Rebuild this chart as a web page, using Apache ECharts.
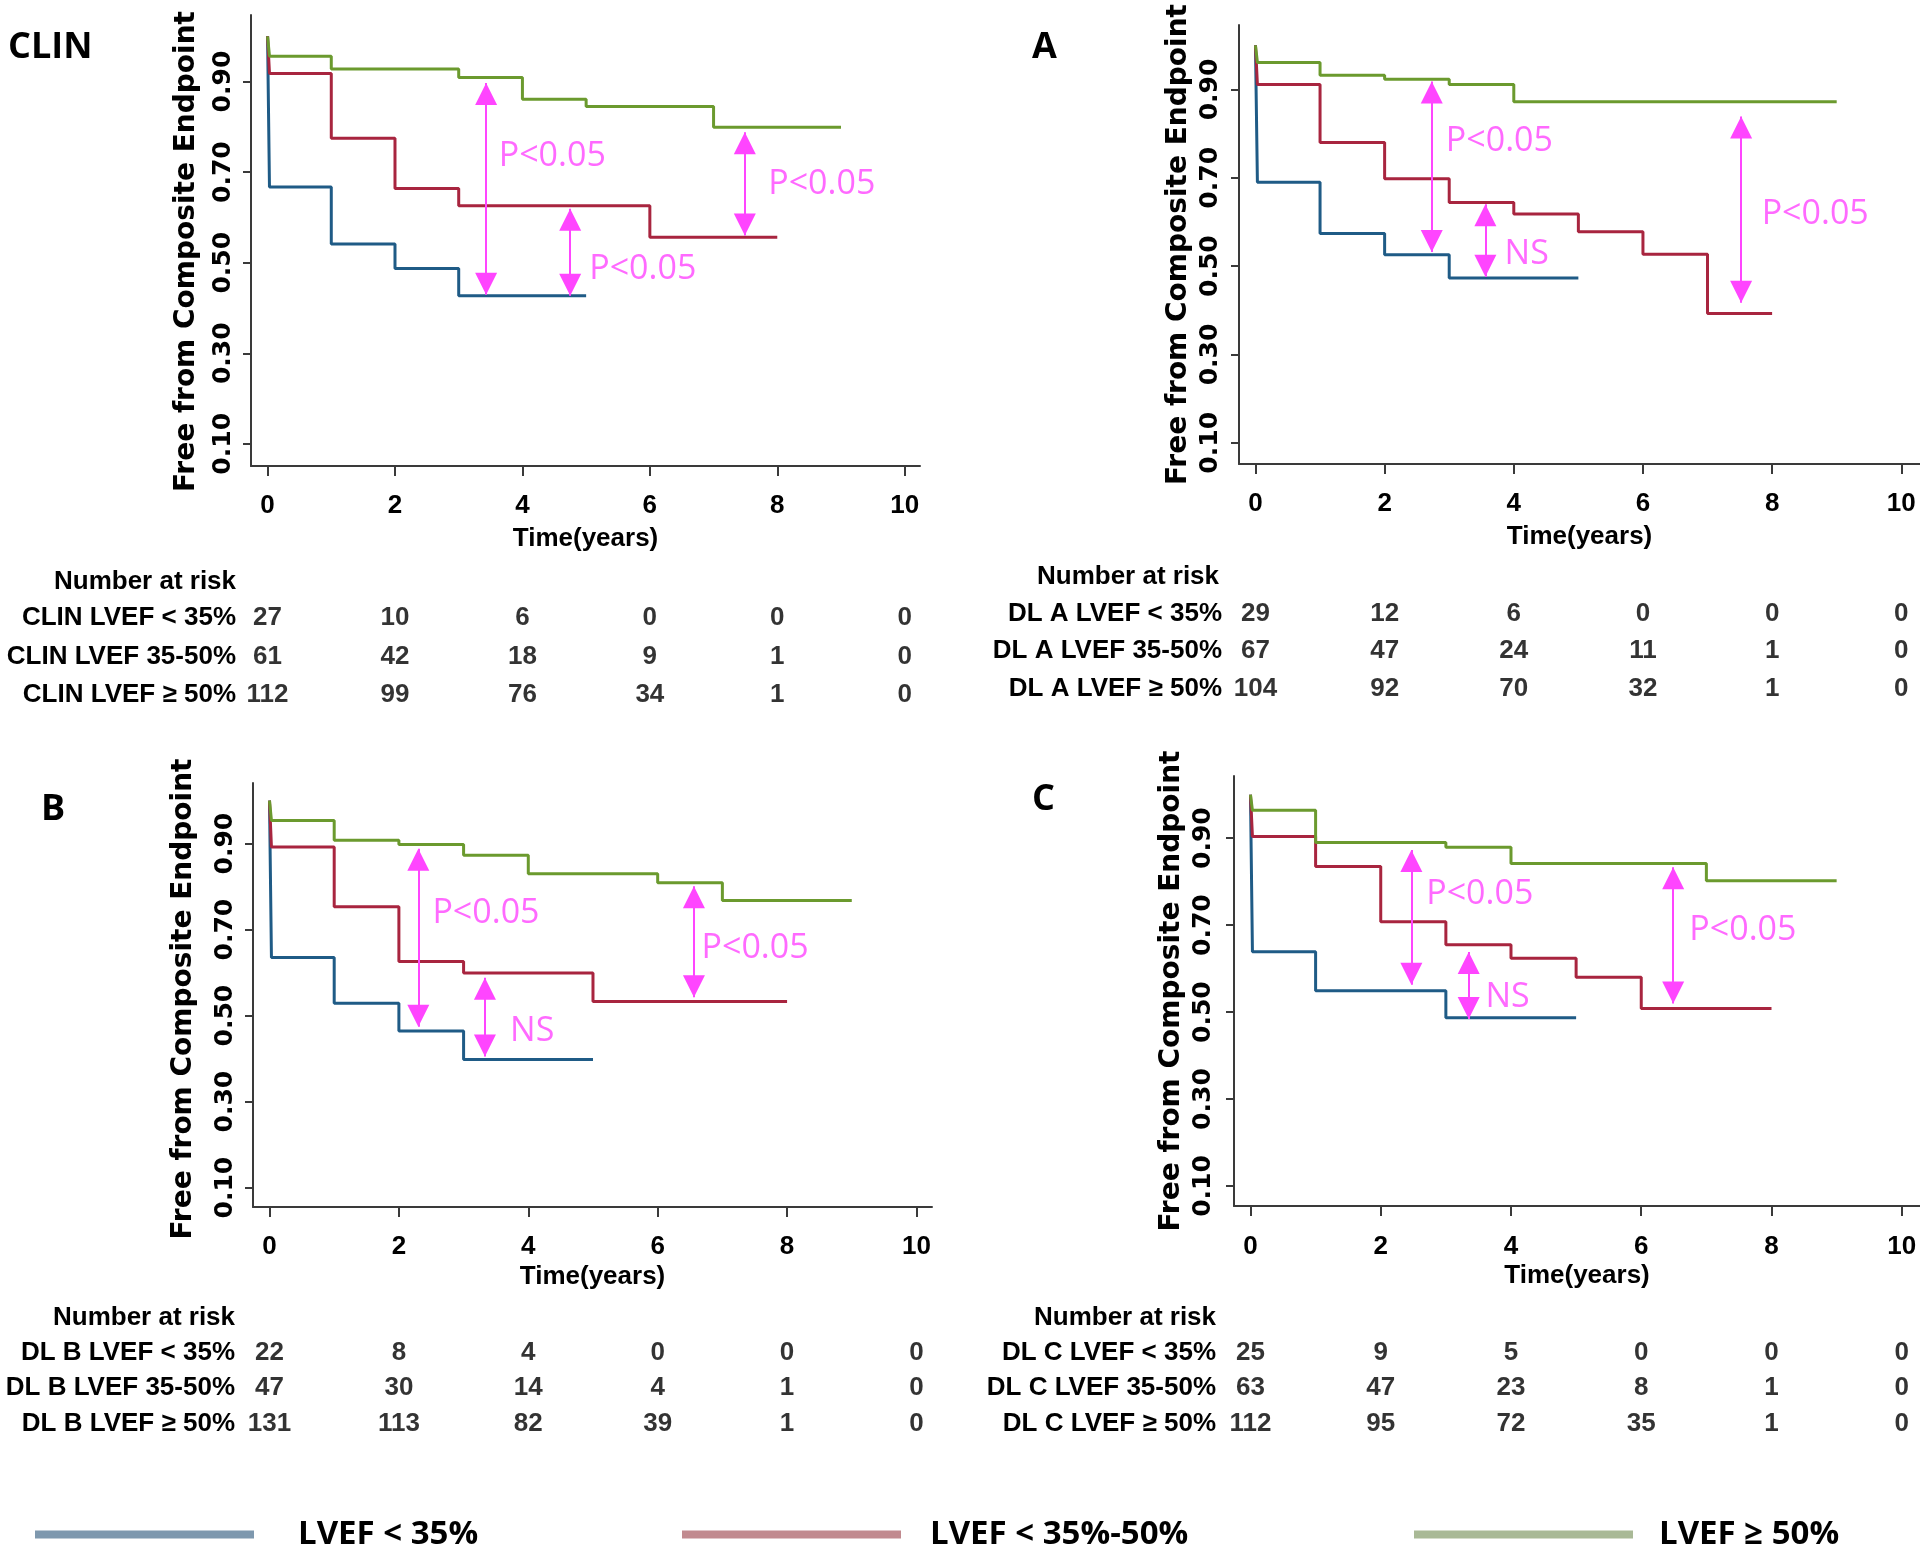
<!DOCTYPE html>
<html>
<head>
<meta charset="utf-8">
<title>Free from Composite Endpoint by LVEF group</title>
<script src="https://cdn.jsdelivr.net/npm/echarts@6/dist/echarts.min.js"></script>
<style>
  html, body { margin: 0; padding: 0; background: #fff; }
  #chart { width: 1920px; height: 1549px; }
</style>
</head>
<body>
<div id="chart"></div>
<script>
// Kaplan-Meier steps, [years, survival]
const clinLow = [[0, 1], [0.03, 0.667], [1, 0.541], [2, 0.487], [3, 0.427], [5, 0.427]];
const clinMid = [[0, 1], [0.03, 0.918], [1, 0.775], [2, 0.664], [3, 0.626], [6, 0.556], [8, 0.556]];
const clinHigh = [[0, 1], [0.03, 0.956], [1, 0.928], [3, 0.909], [4, 0.861], [5, 0.845], [7, 0.799], [9, 0.799]];

const aLow = [[0, 1], [0.03, 0.690], [1, 0.574], [2, 0.526], [3, 0.473], [5, 0.473]];
const aMid = [[0, 1], [0.03, 0.911], [1, 0.780], [2, 0.698], [3, 0.644], [4, 0.618], [5, 0.578], [6, 0.527], [7, 0.393], [8, 0.393]];
const aHigh = [[0, 1], [0.03, 0.961], [1, 0.932], [2, 0.923], [3, 0.911], [4, 0.872], [9, 0.872]];

const bLow = [[0, 1], [0.03, 0.635], [1, 0.529], [2, 0.464], [3, 0.398], [5, 0.398]];
const bMid = [[0, 1], [0.03, 0.892], [1, 0.753], [2, 0.626], [3, 0.599], [5, 0.533], [8, 0.533]];
const bHigh = [[0, 1], [0.03, 0.954], [1, 0.908], [2, 0.898], [3, 0.873], [4, 0.830], [6, 0.809], [7, 0.768], [9, 0.768]];

const cLow = [[0, 1], [0.03, 0.639], [1, 0.549], [3, 0.487], [5, 0.487]];
const cMid = [[0, 1], [0.03, 0.904], [1, 0.835], [2, 0.708], [3, 0.655], [4, 0.624], [5, 0.580], [6, 0.508], [8, 0.508]];
const cHigh = [[0, 1], [0.03, 0.964], [1, 0.890], [3, 0.879], [4, 0.842], [7, 0.802], [9, 0.802]];

// comparison arrows [years, from, to] and their notes [years, survival, text]
const clinArrows = [[3.43, 0.897, 0.429], [7.49, 0.788, 0.560], [4.75, 0.619, 0.427]];
const clinNotes = [[3.62, 0.735, 'P<0.05'], [7.85, 0.672, 'P<0.05'], [5.04, 0.485, 'P<0.05']];
const aArrows = [[2.73, 0.918, 0.532], [3.56, 0.640, 0.476], [7.52, 0.839, 0.417]];
const aNotes = [[2.94, 0.783, 'P<0.05'], [3.85, 0.526, 'NS'], [7.83, 0.617, 'P<0.05']];
const bArrows = [[2.30, 0.888, 0.474], [3.33, 0.588, 0.405], [6.56, 0.801, 0.543]];
const bNotes = [[2.51, 0.737, 'P<0.05'], [3.71, 0.464, 'NS'], [6.67, 0.656, 'P<0.05']];
const cArrows = [[2.47, 0.873, 0.563], [3.35, 0.638, 0.484], [6.49, 0.833, 0.520]];
const cNotes = [[2.69, 0.770, 'P<0.05'], [3.60, 0.534, 'NS'], [6.73, 0.689, 'P<0.05']];

// number at risk
const riskTimes = [0, 2, 4, 6, 8, 10];
const clinRows = ['CLIN LVEF < 35%', 'CLIN LVEF 35-50%', 'CLIN LVEF \u2265 50%'];
const clinRisk = [[27, 10, 6, 0, 0, 0], [61, 42, 18, 9, 1, 0], [112, 99, 76, 34, 1, 0]];
const aRows = ['DL A LVEF < 35%', 'DL A LVEF 35-50%', 'DL A LVEF \u2265 50%'];
const aRisk = [[29, 12, 6, 0, 0, 0], [67, 47, 24, 11, 1, 0], [104, 92, 70, 32, 1, 0]];
const bRows = ['DL B LVEF < 35%', 'DL B LVEF 35-50%', 'DL B LVEF \u2265 50%'];
const bRisk = [[22, 8, 4, 0, 0, 0], [47, 30, 14, 4, 1, 0], [131, 113, 82, 39, 1, 0]];
const cRows = ['DL C LVEF < 35%', 'DL C LVEF 35-50%', 'DL C LVEF \u2265 50%'];
const cRisk = [[25, 9, 5, 0, 0, 0], [63, 47, 23, 8, 1, 0], [112, 95, 72, 35, 1, 0]];

const groupNames = ['LVEF < 35%', 'LVEF < 35%-50%', 'LVEF \u2265 50%'];
const yTicks = [0.1, 0.3, 0.5, 0.7, 0.9];
const xTicks = [0, 2, 4, 6, 8, 10];

const lineColors = ['#1f5b86', '#a8253f', '#6b9a2e'];
const legendColors = ['#7e98ae', '#c18a8f', '#a9b996'];
const MAGENTA = '#ff45ff';
const ARIAL = '"Liberation Sans", Arial, sans-serif';

const panels = [
  {tag: 'CLIN', tagAt: [8, 48], head: [145, 582], curves: [clinLow, clinMid, clinHigh],
   arrows: clinArrows, notes: clinNotes, rows: clinRows, risk: clinRisk,
   box: {left: 251, top: 15, width: 669, height: 451}, xr: [-0.26, 10.24], yr: [0.051, 1.047],
   tbl: {top: 599, height: 115.5}, yLabelGap: 15, yNameGap: 50, yNameShift: 22,
   xLabelGap: 27, xNameGap: 60, rowGap: 15},
  {tag: 'A', tagAt: [1032, 48], head: [1128, 577], curves: [aLow, aMid, aHigh],
   arrows: aArrows, notes: aNotes, rows: aRows, risk: aRisk,
   box: {left: 1239, top: 25, width: 681, height: 439}, xr: [-0.255, 10.29], yr: [0.052, 1.046],
   tbl: {top: 595, height: 112.5}, yLabelGap: 16, yNameGap: 46, yNameShift: 0,
   xLabelGap: 27, xNameGap: 60, rowGap: 17},
  {tag: 'B', tagAt: [41, 810], head: [144, 1318], curves: [bLow, bMid, bHigh],
   arrows: bArrows, notes: bNotes, rows: bRows, risk: bRisk,
   box: {left: 253, top: 783, width: 679, height: 424}, xr: [-0.255, 10.24], yr: [0.055, 1.041],
   tbl: {top: 1335, height: 106.5}, yLabelGap: 15, yNameGap: 55, yNameShift: 8,
   xLabelGap: 27, xNameGap: 57, rowGap: 18},
  {tag: 'C', tagAt: [1032, 800], head: [1125, 1318], curves: [cLow, cMid, cHigh],
   arrows: cArrows, notes: cNotes, rows: cRows, risk: cRisk,
   box: {left: 1234, top: 776, width: 686, height: 430}, xr: [-0.253, 10.28], yr: [0.054, 1.043],
   tbl: {top: 1335, height: 106.5}, yLabelGap: 18, yNameGap: 48, yNameShift: 0,
   xLabelGap: 28, xNameGap: 57, rowGap: 18}
];

const axisLine = {show: true, onZero: false, lineStyle: {color: '#3a3a3a', width: 2}};
const grid = [], xAxis = [], yAxis = [], series = [], graphic = [];

panels.forEach((p, i) => {
  const main = 2 * i, tbl = 2 * i + 1;
  grid.push({left: p.box.left, top: p.box.top, width: p.box.width, height: p.box.height,
             containLabel: false, outerBoundsMode: 'none'});
  grid.push({left: p.box.left, top: p.tbl.top, width: p.box.width, height: p.tbl.height,
             containLabel: false, outerBoundsMode: 'none'});

  xAxis.push({
    type: 'value', gridIndex: main, min: p.xr[0], max: p.xr[1],
    axisLine: axisLine, splitLine: {show: false},
    axisTick: {show: true, customValues: xTicks, length: 10, lineStyle: {color: '#3a3a3a', width: 2}},
    axisLabel: {customValues: xTicks, margin: p.xLabelGap, color: '#000',
                fontFamily: ARIAL, fontWeight: 'bold', fontSize: 26},
    name: 'Time(years)', nameLocation: 'middle', nameGap: p.xNameGap,
    nameTextStyle: {color: '#000', fontFamily: ARIAL, fontWeight: 'bold', fontSize: 26}
  });
  xAxis.push({type: 'value', gridIndex: tbl, min: p.xr[0], max: p.xr[1], show: false});

  yAxis.push({
    type: 'value', gridIndex: main, min: p.yr[0], max: p.yr[1],
    axisLine: axisLine, splitLine: {show: false},
    axisTick: {show: true, customValues: yTicks, length: 8, lineStyle: {color: '#3a3a3a', width: 2}},
    axisLabel: {customValues: yTicks, rotate: 90, margin: p.yLabelGap, color: '#000',
                fontFamily: 'DejaVu Sans', fontWeight: 'bold', fontSize: 25,
                formatter: v => v.toFixed(2)},
    name: 'Free from Composite Endpoint', nameLocation: 'middle', nameRotate: 90, nameGap: p.yNameGap,
    nameTextStyle: {color: '#000', fontFamily: 'DejaVu Sans', fontWeight: 'bold', fontSize: 28,
                    padding: [0, p.yNameShift, 0, 0]}
  });
  yAxis.push({
    type: 'category', gridIndex: tbl, data: p.rows, inverse: true,
    axisLine: {show: false}, axisTick: {show: false}, splitLine: {show: false},
    axisLabel: {interval: 0, margin: p.rowGap, color: '#000',
                fontFamily: ARIAL, fontWeight: 'bold', fontSize: 26}
  });

  // survival curves
  p.curves.forEach((c, k) => {
    series.push({
      type: 'line', name: groupNames[k], xAxisIndex: main, yAxisIndex: main,
      data: c, step: 'end', symbol: 'none', z: 3 + k,
      lineStyle: {color: lineColors[k], width: 3}, itemStyle: {color: lineColors[k]}
    });
  });

  // double-headed arrows
  series.push({
    type: 'line', name: 'arrows' + i, xAxisIndex: main, yAxisIndex: main, data: [], z: 6,
    markLine: {
      silent: true, animation: false,
      symbol: ['triangle', 'triangle'], symbolSize: 22, symbolOffset: [[0, 11], [0, 11]],
      lineStyle: {color: MAGENTA, width: 2, type: 'solid'},
      label: {show: false},
      data: p.arrows.map(a => [{coord: [a[0], a[1]]}, {coord: [a[0], a[2]]}])
    }
  });

  // significance notes
  series.push({
    type: 'scatter', name: 'notes' + i, xAxisIndex: main, yAxisIndex: main, z: 7,
    symbolSize: 1, itemStyle: {color: 'rgba(0,0,0,0)'},
    data: p.notes.map(n => ({name: n[2], value: [n[0], n[1]]})),
    label: {show: true, position: 'right', distance: 0, formatter: '{b}',
            color: MAGENTA, fontFamily: 'Open Sans', fontSize: 34}
  });

  // number at risk table
  const cells = [];
  p.risk.forEach((row, r) => row.forEach((n, j) => cells.push([riskTimes[j], r, n])));
  series.push({
    type: 'scatter', name: 'risk' + i, xAxisIndex: tbl, yAxisIndex: tbl,
    symbolSize: 1, itemStyle: {color: 'rgba(0,0,0,0)'}, data: cells,
    label: {show: true, position: 'inside', formatter: q => String(q.value[2]),
            color: '#000', fontFamily: ARIAL, fontWeight: 'bold', fontSize: 26}
  });

  graphic.push({type: 'text', x: p.tagAt[0], y: p.tagAt[1],
    style: {text: p.tag, fill: '#000', font: 'bold 36px "Open Sans"', textAlign: 'left', textVerticalAlign: 'middle'}});
  graphic.push({type: 'text', x: p.head[0], y: p.head[1],
    style: {text: 'Number at risk', fill: '#000', font: 'bold 26px ' + ARIAL, textAlign: 'center', textVerticalAlign: 'middle'}});
});

// one legend per group so each can sit where the reference puts it
const legendLeft = [35, 682, 1414];
const legendPad = [39, 24, 21];
const legend = groupNames.map((name, k) => ({
  left: legendLeft[k], top: 1518, padding: 0, orient: 'horizontal', selectedMode: false,
  icon: 'rect', itemWidth: 219, itemHeight: 8,
  data: [{name: name, itemStyle: {color: legendColors[k], borderWidth: 0}}],
  textStyle: {color: '#000', fontFamily: 'Open Sans', fontWeight: 'bold', fontSize: 33,
              padding: [20, 0, 0, legendPad[k]]}
}));

const chart = echarts.init(document.getElementById('chart'));
chart.setOption({
  animation: false,
  backgroundColor: '#fff',
  grid: grid,
  xAxis: xAxis,
  yAxis: yAxis,
  legend: legend,
  graphic: graphic,
  series: series
});
</script>
</body>
</html>
